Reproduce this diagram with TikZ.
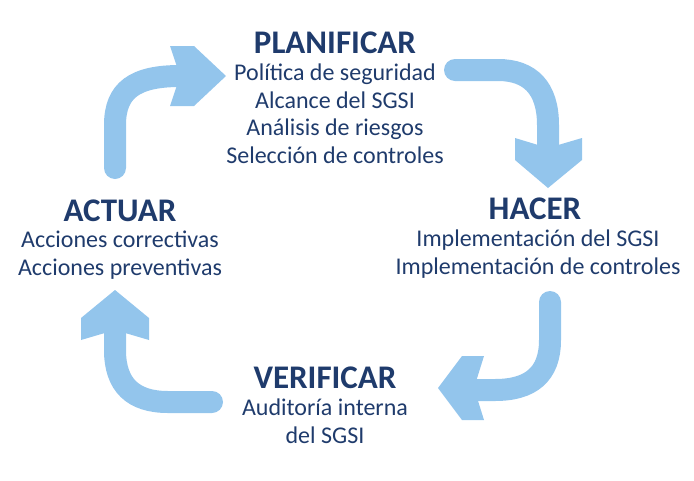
\documentclass[tikz,border=0pt]{standalone}
\usepackage{fontspec}
\setmainfont{Carlito}
\definecolor{arr}{HTML}{93C5EC}
\definecolor{txt}{HTML}{1F3B6C}
\begin{document}
\begin{tikzpicture}[x=1pt,y=-1pt,
  shaft/.style={draw=arr,line width=22pt,line cap=round},
  head/.style={fill=arr},
  ttl/.style={text=txt,font=\fontsize{33}{36}\selectfont\bfseries,inner sep=0},
  body/.style={text=txt,font=\fontsize{24}{27.5}\selectfont,align=center,inner sep=0}]
\useasboundingbox (0,0) rectangle (694,480);
% arrows
\draw[shaft] (115,168) -- (115,125) .. controls (115,90) and (135,76) .. (180,76);
\fill[head] (170,46) -- (194,46) -- (226,76) -- (194,106) -- (170,106) -- (180,76) -- cycle;
\draw[shaft] (455,70) -- (498,70) .. controls (530,70) and (548,88) .. (548,125) -- (548,150);
\fill[head] (515,138) -- (515,160) -- (548,188) -- (582,160) -- (582,138) -- (548,148) -- cycle;
\draw[shaft] (550,302) -- (550,340) .. controls (550,375) and (530,390) .. (495,390) -- (475,390);
\fill[head] (484,356) -- (462,356) -- (438,388) -- (462,420) -- (484,420) -- (474,388) -- cycle;
\draw[shaft] (212,402) -- (168,402) .. controls (133,402) and (115,385) .. (115,350) -- (115,328);
\fill[head] (81,340) -- (81,318) -- (115,290) -- (149,318) -- (149,340) -- (115,330) -- cycle;
% texts
\node[ttl] (p) at (335,43) {PLANIFICAR};
\node[body,anchor=north] (pb) at (335,64) {Política de seguridad\\Alcance del SGSI\\Análisis de riesgos\\Selección de controles};
\node[ttl] (h) at (535,209) {HACER};
\node[body,anchor=north] (hb) at (538,230) {Implementación del SGSI\\Implementación de controles};
\node[ttl] (a) at (120,211) {ACTUAR};
\node[body,anchor=north] (ab) at (120,231) {Acciones correctivas\\Acciones preventivas};
\node[ttl] (v) at (325,378) {VERIFICAR};
\node[body,anchor=north] (vb) at (325,399) {Auditoría interna\\del SGSI};
\end{tikzpicture}
\end{document}
